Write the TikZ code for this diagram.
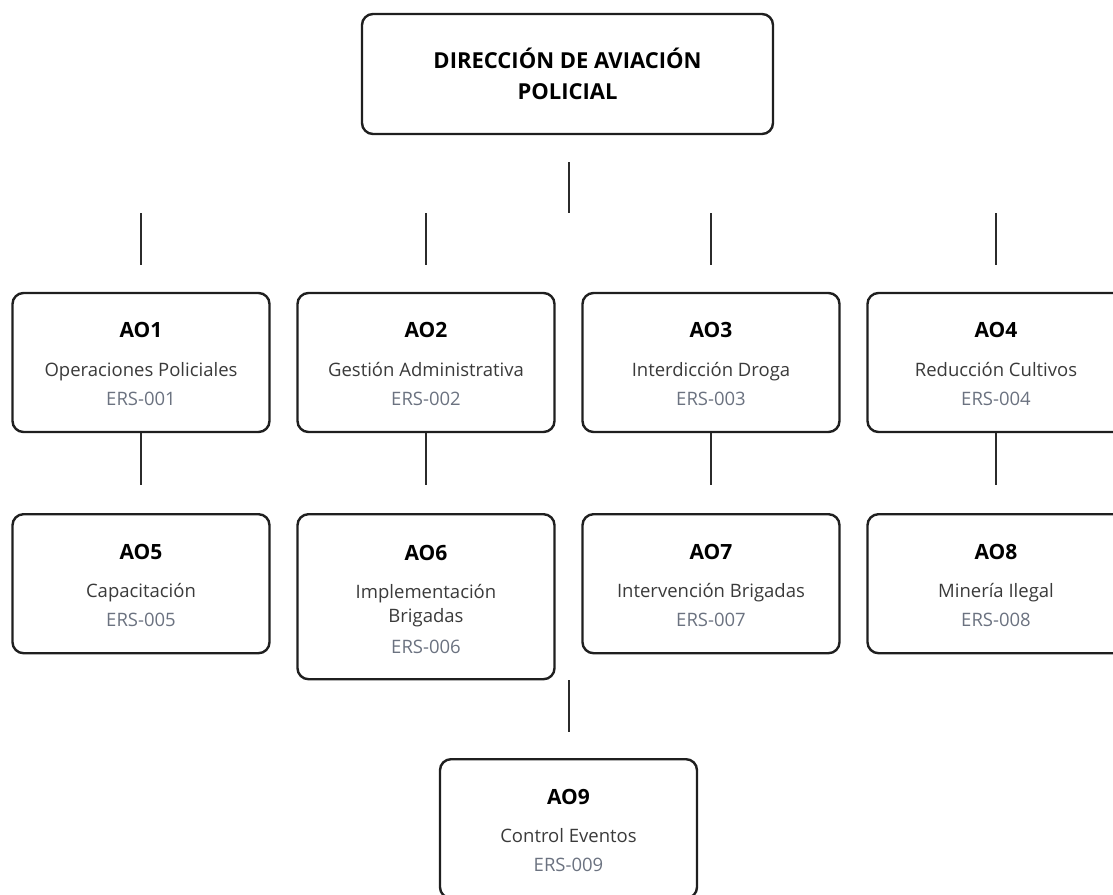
\documentclass[tikz,border=0pt]{standalone}
\usepackage{fontspec}
\setmainfont{Open Sans}
\definecolor{boxline}{HTML}{1F1F1F}
\definecolor{bodytext}{HTML}{3A3A3A}
\definecolor{codetext}{HTML}{6B7280}
\definecolor{linkline}{HTML}{2B2B2B}
\tikzset{
  unit/.style={draw=boxline, line width=2.4pt, rounded corners=11pt,
    minimum width=257pt, minimum height=139pt, inner sep=0pt},
  unithead/.style={anchor=base, inner sep=0pt, text=black, font=\fontsize{21}{25}\selectfont\bfseries},
  unitdesc/.style={anchor=base, inner sep=0pt, text=bodytext, font=\fontsize{18.5}{23}\selectfont},
  unitcode/.style={anchor=base, inner sep=0pt, text=codetext, font=\fontsize{18.5}{23}\selectfont},
  link/.style={draw=linkline, line width=1.1pt}
}
\begin{document}
\begin{tikzpicture}[x=1pt, y=-1pt]
	\useasboundingbox (0,0) rectangle (1113,894);
	\begin{scope}
		\clip (0,0) rectangle (1113,894);
		\node[unit, minimum width=411pt, minimum height=120pt, align=center, text=black,
			font=\fontsize{22}{31}\selectfont\bfseries] (dap) at (567.5,74) {DIRECCIÓN DE AVIACIÓN\\POLICIAL};
		\coordinate (dap-a) at (569,162);
		\coordinate (dap-b) at (569,213);
		\draw[link] (dap-a) -- (dap-b);
		\foreach \x/\id/\txt/\code in {141/1/Operaciones Policiales/001, 426/2/Gestión Administrativa/002, 711/3/Interdicción Droga/003, 996/4/Reducción Cultivos/004} {
			\node[unit] (ao\id) at (\x,362.5) {};
			\node[unithead] (ao\id-h) at ([yshift=-46pt]ao\id.north) {AO\id};
			\node[unitdesc] (ao\id-d) at ([yshift=-85pt]ao\id.north) {\txt};
			\node[unitcode] (ao\id-c) at ([yshift=-114pt]ao\id.north) {ERS-\code};
			\coordinate (up\id) at (\x,213);
			\coordinate (dn\id) at (\x,265);
			\draw[link] (up\id) -- (dn\id);
			\coordinate (mid\id) at (\x,485);
			\draw[link] (ao\id.south) -- (mid\id);
		}
		\foreach \x/\id/\txt/\code in {141/5/Capacitación/005, 711/7/Intervención Brigadas/007, 996/8/Minería Ilegal/008, 568.5/9/Control Eventos/009} {
			\node[unit, anchor=north] (ao\id) at (\x,\ifnum\id=9 758\else 513\fi) {};
			\node[unithead] (ao\id-h) at ([yshift=-46pt]ao\id.north) {AO\id};
			\node[unitdesc] (ao\id-d) at ([yshift=-84pt]ao\id.north) {\txt};
			\node[unitcode] (ao\id-c) at ([yshift=-113pt]ao\id.north) {ERS-\code};
		}
		\node[unit, minimum height=165pt, anchor=north] (ao6) at (426,513) {};
		\node[unithead] (ao6-h) at ([yshift=-47pt]ao6.north) {AO6};
		\node[unitdesc] (ao6-d) at ([yshift=-85pt]ao6.north) {Implementación};
		\node[unitdesc] (ao6-e) at ([yshift=-109pt]ao6.north) {Brigadas};
		\node[unitcode] (ao6-c) at ([yshift=-140pt]ao6.north) {ERS-006};
		\coordinate (ao6-a) at (569,680);
		\coordinate (ao6-b) at (569,732);
		\draw[link] (ao6-a) -- (ao6-b);
	\end{scope}
\end{tikzpicture}
\end{document}
